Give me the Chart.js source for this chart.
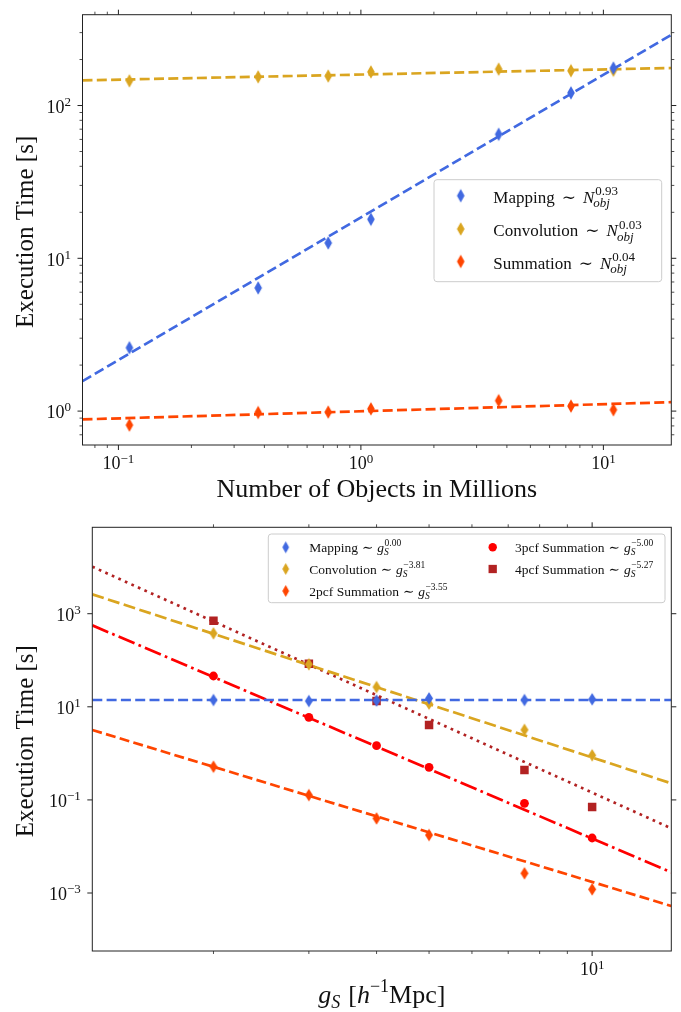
<!DOCTYPE html>
<html>
<head>
<meta charset="utf-8">
<script src="https://cdn.jsdelivr.net/npm/chart.js@4.4.1/dist/chart.umd.min.js"></script>
<style>
  html, body { margin: 0; padding: 0; background: #fff; }
  #wrap { position: relative; width: 681px; height: 1012px; }
  canvas { position: absolute; left: 0; }
  #timingN { top: 0; }
  #timingG { top: 500px; }
</style>
</head>
<body>
<div id="wrap">
  <canvas id="timingN" width="681" height="506"></canvas>
  <canvas id="timingG" width="681" height="512"></canvas>
</div>
<script>
// ---- panel 1: execution time vs number of objects (millions) ----
const objMillions     = [0.111, 0.377, 0.733, 1.10, 3.70, 7.35, 11.0];
const mappingTime     = [2.6, 6.4, 12.6, 18.0, 64.8, 121, 176];
const convolutionTime = [145, 154, 156, 166, 173, 169, 170];
const summationTime   = [0.81, 0.979, 0.985, 1.035, 1.17, 1.078, 1.02];

// power-law fits, evaluated at the two ends of the x range
const objRange       = [0.0711, 19.06];
const mappingFit     = [1.57, 290];
const convolutionFit = [146, 176];
const summationFit   = [0.882, 1.144];

const timeRangeN      = [0.622, 393];
const objTickValues   = [0.1, 1, 10];
const objTickExps     = ['\u22121', '0', '1'];
const timeTickValuesN = [1, 10, 100];
const timeTickExpsN   = ['0', '1', '2'];
const slopeN          = ['0.93', '0.03', '0.04'];

// ---- panel 2: execution time vs grid spacing g_S ----
const gridSpacing      = [2, 3, 4, 5, 7.5, 10];
const mappingTimeG     = [14.0, 13.3, 13.6, 15.2, 14.0, 14.5];
const convolutionTimeG = [379, 82, 26.6, 11.7, 3.2, 0.91];
const pcf2Time         = [0.517, 0.127, 0.040, 0.0176, 0.00265, 0.0012];
const pcf3Time         = [45.9, 5.94, 1.46, 0.50, 0.0845, 0.0152];
const pcf4Time         = [707, 84.3, 13.3, 4.07, 0.438, 0.0705];

const spacingRange    = [1.195, 14.0];
const mappingFitG     = [14.0, 14.0];
const convolutionFitG = [2610, 0.227];
const pcf2Fit         = [3.18, 5.26e-4];
const pcf3Fit         = [562, 0.00278];
const pcf4Fit         = [10230, 0.0245];

const timeRangeG        = [5.68e-5, 71800];
const spacingTickValues = [10];
const spacingTickExps   = ['1'];
const timeTickValuesG   = [1e-3, 1e-1, 1e1, 1e3];
const timeTickExpsG     = ['\u22123', '\u22121', '1', '3'];
const slopeG            = ['0.00', '\u22123.81', '\u22123.55', '\u22125.00', '\u22125.27'];

const BLUE = '#4169e1', GOLD = '#daa520', ORANGE = '#ff4500', RED = '#ff0000', BRICK = '#b22222';
const INK = '#222', TEXT = '#111';
const SERIF = '"Liberation Serif", "DejaVu Serif", serif';

function pts(xs, ys) {
  return xs.map((x, i) => ({ x: x, y: ys[i] }));
}

// minor log ticks 2..9 x 10^n inside [min, max]
function logMinors(min, max) {
  const out = [];
  for (let e = Math.floor(Math.log10(min)); e <= Math.ceil(Math.log10(max)); e++) {
    for (let k = 2; k <= 9; k++) {
      const v = k * Math.pow(10, e);
      if (v >= min && v <= max) out.push(v);
    }
  }
  return out;
}

// matplotlib style thin diamond marker
function thinDiamond(color, h, w) {
  const c = document.createElement('canvas');
  c.width = Math.ceil(w) + 2;
  c.height = Math.ceil(h) + 2;
  const g = c.getContext('2d');
  const cx = c.width / 2, cy = c.height / 2;
  g.fillStyle = color;
  g.beginPath();
  g.moveTo(cx, cy - h / 2);
  g.lineTo(cx + w / 2, cy);
  g.lineTo(cx, cy + h / 2);
  g.lineTo(cx - w / 2, cy);
  g.closePath();
  g.fill();
  return c;
}

// --- mixed text runs (for powers, sub/superscripts) ---
function fontOf(r) {
  return (r.it ? 'italic ' : '') + r.size + 'px ' + SERIF;
}
function runWidth(ctx, r) {
  if (r.gap !== undefined) return r.gap;
  if (r.stack) return Math.max.apply(null, r.stack.map(s => (s.dx || 0) + runWidth(ctx, s)));
  ctx.font = fontOf(r);
  return ctx.measureText(r.t).width;
}
function paintRun(ctx, r, x, y) {
  if (r.gap !== undefined) return;
  if (r.stack) { r.stack.forEach(s => paintRun(ctx, s, x + (s.dx || 0), y)); return; }
  ctx.font = fontOf(r);
  ctx.fillText(r.t, x, y + (r.dy || 0));
}
function drawRuns(ctx, runs, x, y, align) {
  const widths = runs.map(r => runWidth(ctx, r));
  const total = widths.reduce((s, w) => s + w, 0);
  let cx = align === 'center' ? x - total / 2 : align === 'right' ? x - total : x;
  ctx.textAlign = 'left';
  ctx.textBaseline = 'alphabetic';
  ctx.fillStyle = TEXT;
  runs.forEach((r, i) => { paintRun(ctx, r, cx, y); cx += widths[i]; });
}

function power(exp, supDy) {
  return [{ t: '10', size: 18 }, { t: exp, size: 13, dy: supDy }];
}
function nLaw(name, exp) {
  return [{ t: name, size: 17 }, { gap: 7 }, { t: '\u223c', size: 17 }, { gap: 7 },
          { t: 'N', size: 17, it: true },
          { stack: [{ t: exp, size: 13, dy: -7.5, dx: 1 }, { t: 'obj', size: 13, it: true, dy: 4.5, dx: -1 }] }];
}
function gLaw(name, exp) {
  return [{ t: name, size: 13.5 }, { gap: 4 }, { t: '\u223c', size: 13.5 }, { gap: 4 },
          { t: 'g', size: 13.5, it: true },
          { stack: [{ t: exp, size: 9.5, dy: -6, dx: 0.5 }, { t: 'S', size: 9.5, it: true, dy: 3.5 }] }];
}

function roundRect(ctx, x, y, w, h, r) {
  ctx.beginPath();
  ctx.moveTo(x + r, y);
  ctx.lineTo(x + w - r, y);
  ctx.arcTo(x + w, y, x + w, y + r, r);
  ctx.lineTo(x + w, y + h - r);
  ctx.arcTo(x + w, y + h, x + w - r, y + h, r);
  ctx.lineTo(x + r, y + h);
  ctx.arcTo(x, y + h, x, y + h - r, r);
  ctx.lineTo(x, y + r);
  ctx.arcTo(x, y, x + r, y, r);
  ctx.closePath();
}

function drawMarker(ctx, m, x, y) {
  if (m.img) {
    ctx.drawImage(m.img, x - m.img.width / 2, y - m.img.height / 2);
  } else if (m.circle) {
    ctx.fillStyle = m.color;
    ctx.beginPath();
    ctx.arc(x, y, m.circle, 0, Math.PI * 2);
    ctx.fill();
  } else if (m.square) {
    ctx.fillStyle = m.color;
    ctx.fillRect(x - m.square / 2, y - m.square / 2, m.square, m.square);
  }
}

function drawLegend(ctx, lg) {
  roundRect(ctx, lg.x, lg.y, lg.w, lg.h, 3);
  ctx.fillStyle = 'rgba(255,255,255,0.8)';
  ctx.fill();
  ctx.strokeStyle = '#cccccc';
  ctx.lineWidth = 1;
  ctx.stroke();
  lg.items.forEach(it => {
    drawMarker(ctx, it.marker, it.mx, it.my);
    drawRuns(ctx, it.runs, it.tx, it.my + lg.lift, 'left');
  });
}

// frame, outward ticks on all sides, tick labels, titles, legend
function makeDecor(spec) {
  return {
    id: 'decor',
    afterDraw(chart) {
      const ctx = chart.ctx, a = chart.chartArea;
      const xs = chart.scales.x, ys = chart.scales.y;
      ctx.save();
      ctx.strokeStyle = INK;

      const xTick = (vals, len, w) => vals.forEach(v => {
        const px = xs.getPixelForValue(v);
        ctx.lineWidth = w;
        ctx.beginPath();
        ctx.moveTo(px, a.bottom); ctx.lineTo(px, a.bottom + len);
        ctx.moveTo(px, a.top); ctx.lineTo(px, a.top - len);
        ctx.stroke();
      });
      const yTick = (vals, len, w) => vals.forEach(v => {
        const py = ys.getPixelForValue(v);
        ctx.lineWidth = w;
        ctx.beginPath();
        ctx.moveTo(a.left, py); ctx.lineTo(a.left - len, py);
        ctx.moveTo(a.right, py); ctx.lineTo(a.right + len, py);
        ctx.stroke();
      });
      xTick(spec.xMinor, 3, 0.8);
      xTick(spec.xMajor, 5, 1);
      yTick(spec.yMinor, 3, 0.8);
      yTick(spec.yMajor, 5, 1);

      ctx.lineWidth = 1;
      ctx.strokeRect(a.left, a.top, a.right - a.left, a.bottom - a.top);

      spec.xMajor.forEach((v, i) =>
        drawRuns(ctx, power(spec.xExps[i], -6.5), xs.getPixelForValue(v), a.bottom + 24, 'center'));
      spec.yMajor.forEach((v, i) =>
        drawRuns(ctx, power(spec.yExps[i], -7), a.left - 11.5, ys.getPixelForValue(v) + 7.3, 'right'));

      drawRuns(ctx, spec.xTitle, (a.left + a.right) / 2, a.bottom + 52, 'center');
      ctx.save();
      ctx.translate(32.5, (a.top + a.bottom) / 2 + 2);
      ctx.rotate(-Math.PI / 2);
      drawRuns(ctx, spec.yTitle, 0, 0, 'center');
      ctx.restore();

      drawLegend(ctx, spec.legend);
      ctx.restore();
    }
  };
}

function markerSet(label, xs, ys, color, style, radius) {
  return {
    label: label, data: pts(xs, ys), showLine: false,
    pointStyle: style, pointRadius: radius, pointHoverRadius: radius,
    backgroundColor: color, borderColor: color, borderWidth: 0, order: 1
  };
}
function fitSet(label, xs, ys, color, dash) {
  return {
    label: label, data: pts(xs, ys), showLine: true, pointRadius: 0,
    borderColor: color, borderWidth: 2.7, borderDash: dash, fill: false, tension: 0, order: 2
  };
}

function baseOptions(padding, xRange, yRange) {
  return {
    responsive: false,
    animation: false,
    devicePixelRatio: 1,
    events: [],
    layout: { padding: padding },
    plugins: { legend: { display: false }, tooltip: { enabled: false } },
    scales: {
      x: { type: 'logarithmic', display: false, min: xRange[0], max: xRange[1] },
      y: { type: 'logarithmic', display: false, min: yRange[0], max: yRange[1] }
    }
  };
}

const DASH = [10, 4.3];
const ETitle = [{ t: 'Execution Time [s]', size: 25 }];

// ---- panel 1 ----
const dBlue = thinDiamond(BLUE, 13.4, 7.6);
const dGold = thinDiamond(GOLD, 13.4, 7.6);
const dOrange = thinDiamond(ORANGE, 13.4, 7.6);

new Chart(document.getElementById('timingN'), {
  type: 'scatter',
  data: {
    datasets: [
      markerSet('Mapping', objMillions, mappingTime, BLUE, dBlue, 5),
      markerSet('Convolution', objMillions, convolutionTime, GOLD, dGold, 5),
      markerSet('Summation', objMillions, summationTime, ORANGE, dOrange, 5),
      fitSet('Mapping fit', objRange, mappingFit, BLUE, DASH),
      fitSet('Convolution fit', objRange, convolutionFit, GOLD, DASH),
      fitSet('Summation fit', objRange, summationFit, ORANGE, DASH)
    ]
  },
  options: baseOptions({ left: 82.5, right: 9.7, top: 14.7, bottom: 61 }, objRange, timeRangeN),
  plugins: [makeDecor({
    xMajor: objTickValues, xExps: objTickExps, xMinor: logMinors(objRange[0], objRange[1]).filter(v => objTickValues.indexOf(v) < 0),
    yMajor: timeTickValuesN, yExps: timeTickExpsN, yMinor: logMinors(timeRangeN[0], timeRangeN[1]),
    xTitle: [{ t: 'Number of Objects in Millions', size: 26 }],
    yTitle: ETitle,
    legend: {
      x: 434, y: 179.7, w: 227.7, h: 102, lift: 7,
      items: [
        { marker: { img: dBlue }, mx: 460.7, my: 195.7, tx: 493.3, runs: nLaw('Mapping', slopeN[0]) },
        { marker: { img: dGold }, mx: 460.7, my: 229, tx: 493.3, runs: nLaw('Convolution', slopeN[1]) },
        { marker: { img: dOrange }, mx: 460.7, my: 261.5, tx: 493.3, runs: nLaw('Summation', slopeN[2]) }
      ]
    }
  })]
});

// ---- panel 2 ----
const gBlue = thinDiamond(BLUE, 12.7, 8);
const gGold = thinDiamond(GOLD, 12.7, 8);
const gOrange = thinDiamond(ORANGE, 12.7, 8);
const lBlue = thinDiamond(BLUE, 12, 6.7);
const lGold = thinDiamond(GOLD, 12, 6.7);
const lOrange = thinDiamond(ORANGE, 12, 6.7);

new Chart(document.getElementById('timingG'), {
  type: 'scatter',
  data: {
    datasets: [
      markerSet('Mapping', gridSpacing, mappingTimeG, BLUE, gBlue, 5),
      markerSet('Convolution', gridSpacing, convolutionTimeG, GOLD, gGold, 5),
      markerSet('2pcf Summation', gridSpacing, pcf2Time, ORANGE, gOrange, 5),
      markerSet('3pcf Summation', gridSpacing, pcf3Time, RED, 'circle', 4.4),
      markerSet('4pcf Summation', gridSpacing, pcf4Time, BRICK, 'rect', 6),
      fitSet('Mapping fit', spacingRange, mappingFitG, BLUE, DASH),
      fitSet('Convolution fit', spacingRange, convolutionFitG, GOLD, [12, 4.5]),
      fitSet('2pcf fit', spacingRange, pcf2Fit, ORANGE, DASH),
      fitSet('3pcf fit', spacingRange, pcf3Fit, RED, [17.3, 4.3, 2.7, 4.3]),
      fitSet('4pcf fit', spacingRange, pcf4Fit, BRICK, [2.7, 4.45])
    ]
  },
  options: baseOptions({ left: 92.3, right: 9.7, top: 27.3, bottom: 61 }, spacingRange, timeRangeG),
  plugins: [makeDecor({
    xMajor: spacingTickValues, xExps: spacingTickExps, xMinor: logMinors(spacingRange[0], spacingRange[1]),
    yMajor: timeTickValuesG, yExps: timeTickExpsG, yMinor: [],
    xTitle: [{ t: 'g', size: 26, it: true }, { t: 'S', size: 18, it: true, dy: 5 }, { gap: 8 },
             { t: '[', size: 26 }, { t: 'h', size: 26, it: true }, { t: '\u22121', size: 18, dy: -11 },
             { t: 'Mpc', size: 26 }, { t: ']', size: 26 }],
    yTitle: ETitle,
    legend: {
      x: 268.3, y: 34, w: 396.7, h: 68.7, lift: 4.5,
      items: [
        { marker: { img: lBlue }, mx: 285.7, my: 47.3, tx: 309.3, runs: gLaw('Mapping', slopeG[0]) },
        { marker: { img: lGold }, mx: 285.7, my: 69, tx: 309.3, runs: gLaw('Convolution', slopeG[1]) },
        { marker: { img: lOrange }, mx: 285.7, my: 91, tx: 309.3, runs: gLaw('2pcf Summation', slopeG[2]) },
        { marker: { circle: 4.2, color: RED }, mx: 492.7, my: 47.3, tx: 515, runs: gLaw('3pcf Summation', slopeG[3]) },
        { marker: { square: 8.3, color: BRICK }, mx: 492.7, my: 69, tx: 515, runs: gLaw('4pcf Summation', slopeG[4]) }
      ]
    }
  })]
});
</script>
</body>
</html>
